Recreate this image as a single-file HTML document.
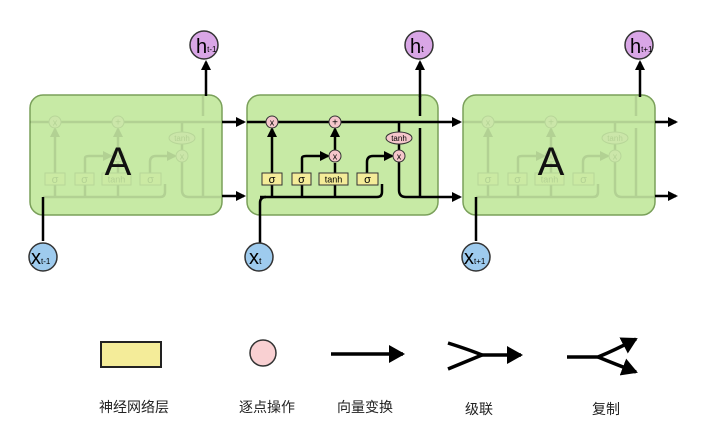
<!DOCTYPE html>
<html><head><meta charset="utf-8"><style>
html,body{margin:0;padding:0;background:#fff;width:722px;height:437px;overflow:hidden}
text{font-family:"Liberation Sans","DejaVu Sans",sans-serif}
.cj{font-family:"Liberation Sans","Noto Sans CJK SC",sans-serif;font-size:14px;fill:#222}
</style></head><body>
<svg width="722" height="437" viewBox="0 0 722 437" xmlns="http://www.w3.org/2000/svg">
<defs>
<marker id="ah" markerWidth="10" markerHeight="10" refX="8" refY="5" orient="auto" markerUnits="userSpaceOnUse"><path d="M0,0 L10,5 L0,10 z" fill="#000"/></marker>
<marker id="ah2" markerWidth="16" markerHeight="18" refX="14" refY="9" orient="auto" markerUnits="userSpaceOnUse"><path d="M0,0 L16,9 L0,18 z" fill="#000"/></marker>
<g id="cell">
 <line x1="0" y1="122" x2="191" y2="122" stroke="#000" stroke-width="2.5"/>
 <path d="M13,197 H130 Q135,197 135,192 V184" fill="none" stroke="#000" stroke-width="2.5"/>
 <line x1="25" y1="197" x2="25" y2="129" stroke="#000" stroke-width="2.5" marker-end="url(#ah)"/>
 <path d="M55,197 V158 Q55,156 59,156 H81" fill="none" stroke="#000" stroke-width="2.5" marker-end="url(#ah)"/>
 <line x1="88" y1="197" x2="88" y2="163" stroke="#000" stroke-width="2.5"/>
 <line x1="88" y1="150" x2="88" y2="129" stroke="#000" stroke-width="2.5" marker-end="url(#ah)"/>
 <path d="M120,184 V162 Q120,156 126,156 H145" fill="none" stroke="#000" stroke-width="2.5" marker-end="url(#ah)"/>
 <line x1="152" y1="122" x2="152" y2="163" stroke="#000" stroke-width="2.5"/>
 <path d="M152,163 V190 Q152,197 159,197 H191" fill="none" stroke="#000" stroke-width="2.5"/>
 <line x1="173" y1="96" x2="173" y2="116" stroke="#000" stroke-width="2.5"/>
 <line x1="173" y1="128" x2="173" y2="197" stroke="#000" stroke-width="2.5"/>
 <rect x="15" y="173" width="20" height="12" fill="#f4ec99" stroke="#333"/><text x="25" y="183" font-size="11" text-anchor="middle">σ</text>
 <rect x="45" y="173" width="19" height="12" fill="#f4ec99" stroke="#333"/><text x="54.5" y="183" font-size="11" text-anchor="middle">σ</text>
 <rect x="72" y="173" width="29" height="12" fill="#f4ec99" stroke="#333"/><text x="86.5" y="182.5" font-size="9" text-anchor="middle">tanh</text>
 <rect x="110" y="173" width="21" height="12" fill="#f4ec99" stroke="#333"/><text x="120.5" y="183" font-size="11" text-anchor="middle">σ</text>
 <circle cx="25" cy="122" r="6" fill="#f5c6cb" stroke="#333"/><text x="25" y="125.5" font-size="9" text-anchor="middle">x</text>
 <circle cx="88" cy="122" r="6" fill="#f5c6cb" stroke="#333"/><text x="88" y="125.5" font-size="10" text-anchor="middle">+</text>
 <circle cx="88" cy="156" r="6" fill="#f5c6cb" stroke="#333"/><text x="88" y="159.5" font-size="9" text-anchor="middle">x</text>
 <circle cx="152" cy="156" r="6" fill="#f5c6cb" stroke="#333"/><text x="152" y="159.5" font-size="9" text-anchor="middle">x</text>
 <ellipse cx="152" cy="138" rx="13" ry="6" fill="#f5c6cb" stroke="#333"/><text x="152" y="141" font-size="8" text-anchor="middle">tanh</text>
</g>
</defs>
<!-- left -->
<rect x="30" y="95" width="192" height="120" rx="13" fill="#c7eaa5" stroke="#7aa05a" stroke-width="1.5"/>
<g opacity="0.1" transform="translate(30,0)"><use href="#cell"/></g>
<text x="118" y="175" font-size="40" text-anchor="middle" fill="#111">A</text>
<line x1="43" y1="241" x2="43" y2="197" stroke="#000" stroke-width="2.5"/>
<line x1="206" y1="96" x2="206" y2="62" stroke="#000" stroke-width="2.5" marker-end="url(#ah)"/>
<line x1="222" y1="122" x2="244" y2="122" stroke="#000" stroke-width="2.5" marker-end="url(#ah)"/>
<line x1="222" y1="196" x2="244" y2="196" stroke="#000" stroke-width="2.5" marker-end="url(#ah)"/>
<!-- mid -->
<rect x="247" y="95" width="191" height="120" rx="13" fill="#c7eaa5" stroke="#7aa05a" stroke-width="1.5"/>
<use href="#cell" transform="translate(247,0)"/>
<path d="M260,243 V203 Q260,197 266,197" fill="none" stroke="#000" stroke-width="2.5"/>
<line x1="420" y1="97" x2="420" y2="62" stroke="#000" stroke-width="2.5" marker-end="url(#ah)"/>
<line x1="438" y1="122" x2="460" y2="122" stroke="#000" stroke-width="2.5" marker-end="url(#ah)"/>
<line x1="438" y1="197" x2="460" y2="197" stroke="#000" stroke-width="2.5" marker-end="url(#ah)"/>
<!-- right -->
<rect x="463" y="95" width="192" height="120" rx="13" fill="#c7eaa5" stroke="#7aa05a" stroke-width="1.5"/>
<g opacity="0.1" transform="translate(463,0)"><use href="#cell"/></g>
<text x="551" y="175" font-size="40" text-anchor="middle" fill="#111">A</text>
<line x1="640" y1="97" x2="640" y2="62" stroke="#000" stroke-width="2.5" marker-end="url(#ah)"/>
<line x1="476" y1="241" x2="476" y2="197" stroke="#000" stroke-width="2.5"/>
<line x1="655" y1="122" x2="676" y2="122" stroke="#000" stroke-width="2.5" marker-end="url(#ah)"/>
<line x1="655" y1="196" x2="676" y2="196" stroke="#000" stroke-width="2.5" marker-end="url(#ah)"/>
<!-- h circles -->
<g stroke="#333" stroke-width="1.5" fill="#d9a6e6">
<circle cx="204" cy="45" r="14"/><circle cx="419" cy="45" r="14"/><circle cx="639" cy="45" r="14"/></g>
<text x="196" y="53" font-size="20">h<tspan font-size="8" dy="-1">t-1</tspan></text>
<text x="410" y="53" font-size="20">h<tspan font-size="9" dy="-1">t</tspan></text>
<text x="630" y="53" font-size="20">h<tspan font-size="8" dy="-1">t+1</tspan></text>
<!-- x circles -->
<g stroke="#333" stroke-width="1.5" fill="#9ecbee">
<circle cx="43" cy="257" r="14"/><circle cx="259" cy="257" r="14"/><circle cx="476" cy="257" r="14"/></g>
<text x="31" y="264" font-size="20">x<tspan font-size="8">t-1</tspan></text>
<text x="249" y="264" font-size="20">x<tspan font-size="9">t</tspan></text>
<text x="464" y="264" font-size="20">x<tspan font-size="8">t+1</tspan></text>
<!-- legend -->
<rect x="101" y="342" width="60" height="25" fill="#f4ec99" stroke="#222" stroke-width="2"/>
<circle cx="263" cy="353" r="13" fill="#f9d0d2" stroke="#333" stroke-width="1.5"/>
<line x1="331" y1="354" x2="403" y2="354" stroke="#000" stroke-width="3.5" marker-end="url(#ah2)"/>
<path d="M448,343 Q470,350 482,355 Q470,360 448,369" fill="none" stroke="#000" stroke-width="3.5"/>
<line x1="480" y1="355" x2="521" y2="355" stroke="#000" stroke-width="3.5" marker-end="url(#ah2)"/>
<path d="M567,357 H598 Q615,350 636,339" fill="none" stroke="#000" stroke-width="3.5" marker-end="url(#ah2)"/>
<path d="M598,357 Q615,364 636,372" fill="none" stroke="#000" stroke-width="3.5" marker-end="url(#ah2)"/>
<text class="cj" x="134" y="412" text-anchor="middle">神经网络层</text>
<text class="cj" x="267" y="412" text-anchor="middle">逐点操作</text>
<text class="cj" x="365" y="412" text-anchor="middle">向量变换</text>
<text class="cj" x="479" y="414" text-anchor="middle">级联</text>
<text class="cj" x="606" y="414" text-anchor="middle">复制</text>
</svg>
</body></html>
